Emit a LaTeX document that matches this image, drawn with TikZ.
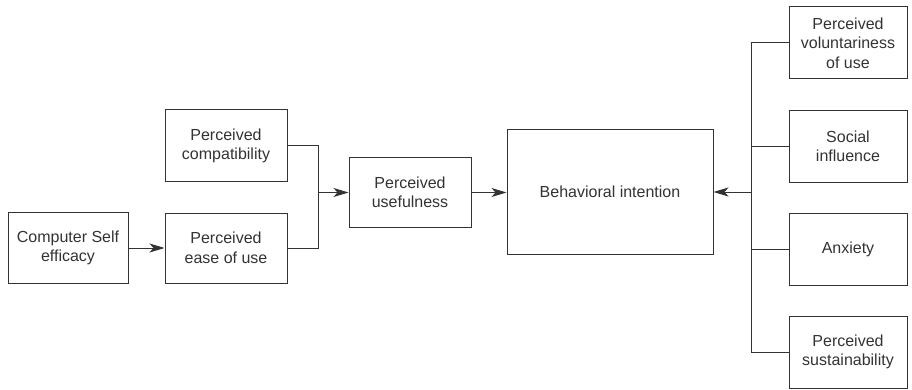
\documentclass[tikz,border=0pt]{standalone}
\usepackage{fontspec}
\setmainfont{Liberation Sans}
\usetikzlibrary{arrows.meta}
\definecolor{ink}{HTML}{333333}
\tikzset{
  box/.style={draw=ink, line width=1pt, fill=white, align=center, text=ink,
    font=\fontsize{16}{19.5}\selectfont, inner sep=0pt},
  conn/.style={draw=ink, line width=1pt},
  arr/.style={conn, -{Stealth[length=15pt,width=9pt,inset=4pt]}}
}
\begin{document}
\begin{tikzpicture}[x=1pt,y=-1pt]
\useasboundingbox (0,0) rectangle (912,390);
\node[box, minimum width=120pt, minimum height=71pt] (cse) at (68,248) {Computer Self\\efficacy};
\node[box, minimum width=122pt, minimum height=72pt] (pc) at (226,146) {Perceived\\compatibility};
\node[box, minimum width=122pt, minimum height=70pt] (peu) at (226,248) {Perceived\\ease of use};
\node[box, minimum width=122pt, minimum height=69pt] (pu) at (410,192.5) {Perceived\\usefulness};
\node[box, minimum width=206pt, minimum height=124pt] (bi) at (610,192) {Behavioral intention};
\node[box, minimum width=118pt, minimum height=72pt] (r1) at (848,43) {Perceived\\voluntariness\\of use};
\node[box, minimum width=118pt, minimum height=72pt] (r2) at (848,146.5) {Social\\influence};
\node[box, minimum width=118pt, minimum height=72pt] (r3) at (848,249) {Anxiety};
\node[box, minimum width=118pt, minimum height=72pt] (r4) at (848,352) {Perceived\\sustainability};
\coordinate (j) at (318,192.5);
\coordinate (jt) at (318,146);
\coordinate (jb) at (318,248);
\coordinate (b) at (751,192);
\coordinate (bt) at (751,43);
\coordinate (bb) at (751,352);
\draw[arr] (cse.east) -- (peu.west);
\draw[conn] (pc.east) -- (jt) -- (jb) -- (peu.east);
\draw[arr] (j) -- (pu.west);
\draw[arr] (pu.east) -- (pu.east -| bi.west);
\draw[conn] (bt) -- (bb);
\draw[conn] (bt) -- (r1.west);
\draw[conn] (r2.west -| b) -- (r2.west);
\draw[conn] (r3.west -| b) -- (r3.west);
\draw[conn] (bb) -- (r4.west);
\draw[arr] (b) -- (bi.east);
\end{tikzpicture}
\end{document}
